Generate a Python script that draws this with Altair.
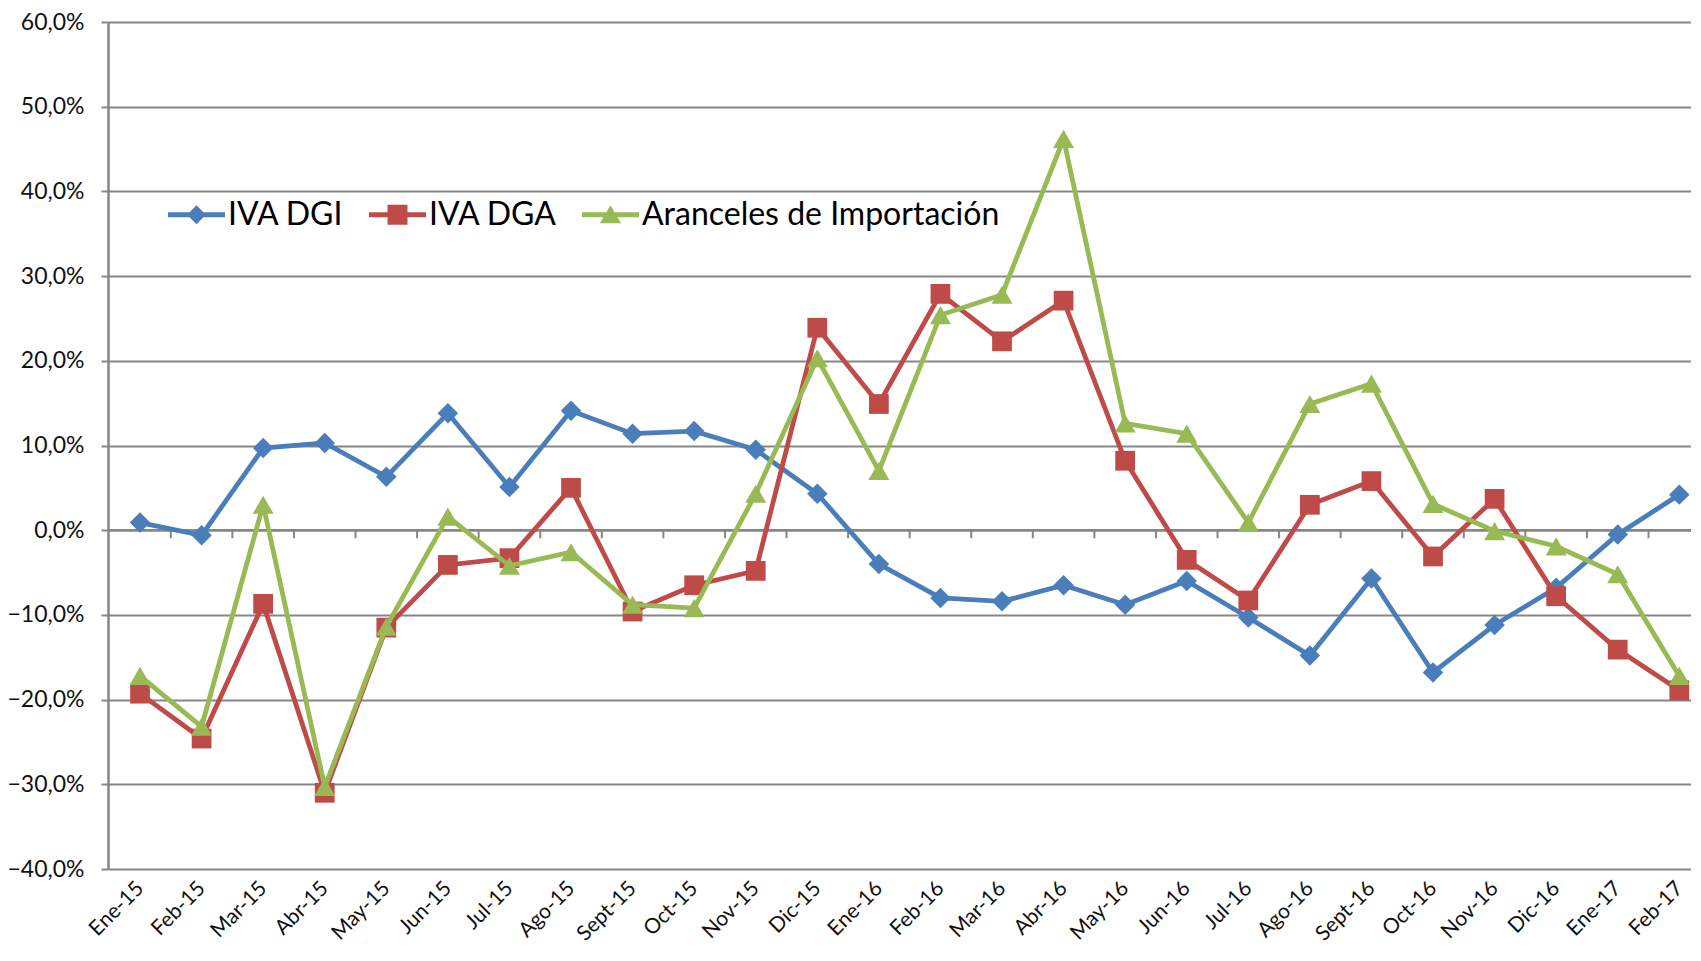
import altair as alt
import pandas as pd

meses = ["Ene-15", "Feb-15", "Mar-15", "Abr-15", "May-15", "Jun-15", "Jul-15", "Ago-15",
         "Sept-15", "Oct-15", "Nov-15", "Dic-15", "Ene-16", "Feb-16", "Mar-16", "Abr-16",
         "May-16", "Jun-16", "Jul-16", "Ago-16", "Sept-16", "Oct-16", "Nov-16", "Dic-16",
         "Ene-17", "Feb-17"]
iva_dgi = [0.9, -0.6, 9.7, 10.3, 6.3, 13.8, 5.1, 14.1, 11.4, 11.7, 9.5, 4.3, -4.0,
           -8.0, -8.4, -6.5, -8.8, -6.0, -10.3, -14.8, -5.7, -16.8, -11.2, -6.8, -0.5, 4.2]
iva_dga = [-19.3, -24.6, -8.7, -31.0, -11.5, -4.1, -3.3, 5.0, -9.6, -6.5, -4.8, 23.9, 14.9,
           27.9, 22.3, 27.1, 8.2, -3.5, -8.3, 3.0, 5.8, -3.1, 3.7, -7.8, -14.1, -18.9]
aranceles = [-17.2, -23.2, 3.0, -30.3, -11.4, 1.6, -4.2, -2.6, -8.8, -9.2, 4.3, 20.3, 7.0,
             25.4, 27.8, 46.2, 12.6, 11.4, 0.9, 14.9, 17.3, 3.1, -0.1, -1.9, -5.2, -17.2]

series = ["IVA DGI", "IVA DGA", "Aranceles de Importación"]
colores = ["#4A7EBB", "#BE4B48", "#98B954"]
formas = ["diamond", "square", "triangle-up"]
tamanos = [420, 390, 440]
y_ticks = [-40, -30, -20, -10, 0, 10, 20, 30, 40, 50, 60]
limites = [i + 0.5 for i in range(25)]

# legend symbols: line segment + marker (custom paths in the -1..1 box)
barra = "M-1,-0.09 L1,-0.09 L1,0.09 L-1,0.09 Z "
simbolos = [
    barra + "M0,-0.33 L0.33,0 L0,0.33 L-0.33,0 Z",
    barra + "M-0.35,-0.35 L0.35,-0.35 L0.35,0.35 L-0.35,0.35 Z",
    barra + "M0,-0.33 L0.37,0.3 L-0.37,0.3 Z",
]

rows = []
for s, vals in zip(series, [iva_dgi, iva_dga, aranceles]):
    for i, v in enumerate(vals):
        rows.append({"serie": s, "idx": i, "valor": v})
df = pd.DataFrame(rows)
df_lim = pd.DataFrame({"b": limites})
df_zero = pd.DataFrame({"z": [0]})

GRIS = "#868686"
FUENTE = "Lato"

x_scale = alt.Scale(domain=[-0.52, 25.19], nice=False, zero=False)
y_scale = alt.Scale(domain=[-40, 60], nice=False, zero=False)

label_expr = "[" + ",".join("'" + m + "'" for m in meses) + "][datum.value]"
x_axis = alt.Axis(values=list(range(len(meses))), labelExpr=label_expr, labelAngle=-45,
                  labelAlign="right", labelBaseline="middle", domain=False, ticks=False,
                  grid=False, labelPadding=16, labelFontSize=21, labelFont=FUENTE,
                  labelColor="#111111", title=None, labelOverlap=False, labelBound=False)
y_axis = alt.Axis(values=y_ticks,
                  labelExpr="replace(format(datum.value, '.1f'), '.', ',') + '%'",
                  grid=True, gridColor=GRIS, gridWidth=2, domainColor=GRIS, domainWidth=2.5,
                  tickColor=GRIS, tickSize=7, tickWidth=2, labelFontSize=23,
                  labelFont=FUENTE, labelColor="#111111", labelPadding=17, title=None)

layers = []

zero = alt.Chart(df_zero).mark_rule(color=GRIS, strokeWidth=2.5).encode(
    y=alt.Y("z:Q", scale=y_scale, axis=y_axis))
layers.append(zero)

ticks = alt.Chart(df_lim).mark_rule(color=GRIS, strokeWidth=2).encode(
    x=alt.X("b:Q", scale=x_scale, axis=x_axis),
    y=alt.datum(0, scale=y_scale, axis=y_axis),
    y2=alt.datum(-0.95))
layers.append(ticks)

for s, c, f, t in zip(series, colores, formas, tamanos):
    sub = alt.Chart(df).transform_filter(alt.datum.serie == s)
    enc = dict(x=alt.X("idx:Q", scale=x_scale, axis=x_axis),
               y=alt.Y("valor:Q", scale=y_scale, axis=y_axis))
    layers.append(sub.mark_line(color=c, strokeWidth=4.8).encode(**enc))
    layers.append(sub.mark_point(shape=f, size=t, filled=True, color=c, opacity=1).encode(**enc))

leyenda = alt.Legend(title=None, orient="none", legendX=60, legendY=164,
                     direction="horizontal", symbolSize=3249, symbolStrokeWidth=0,
                     labelFontSize=32, labelFont=FUENTE, labelColor="#000000",
                     labelOffset=3, columnPadding=25, symbolOpacity=1, labelLimit=0)
leg = alt.Chart(df).transform_filter("false").mark_point(filled=True).encode(
    x=alt.X("idx:Q", scale=x_scale, axis=x_axis),
    y=alt.Y("valor:Q", scale=y_scale, axis=y_axis),
    color=alt.Color("serie:N", scale=alt.Scale(domain=series, range=colores), legend=leyenda),
    shape=alt.Shape("serie:N", scale=alt.Scale(domain=series, range=simbolos), legend=leyenda),
)
layers.append(leg)

chart = alt.layer(*layers).properties(
    width=1583, height=847,
    autosize=alt.AutoSizeParams(type="none"),
    padding={"left": 100, "top": 14, "right": 0, "bottom": 82},
    background="white",
).configure_view(stroke=None)

chart.save("out.html", embed_options={"renderer": "svg", "actions": False})
